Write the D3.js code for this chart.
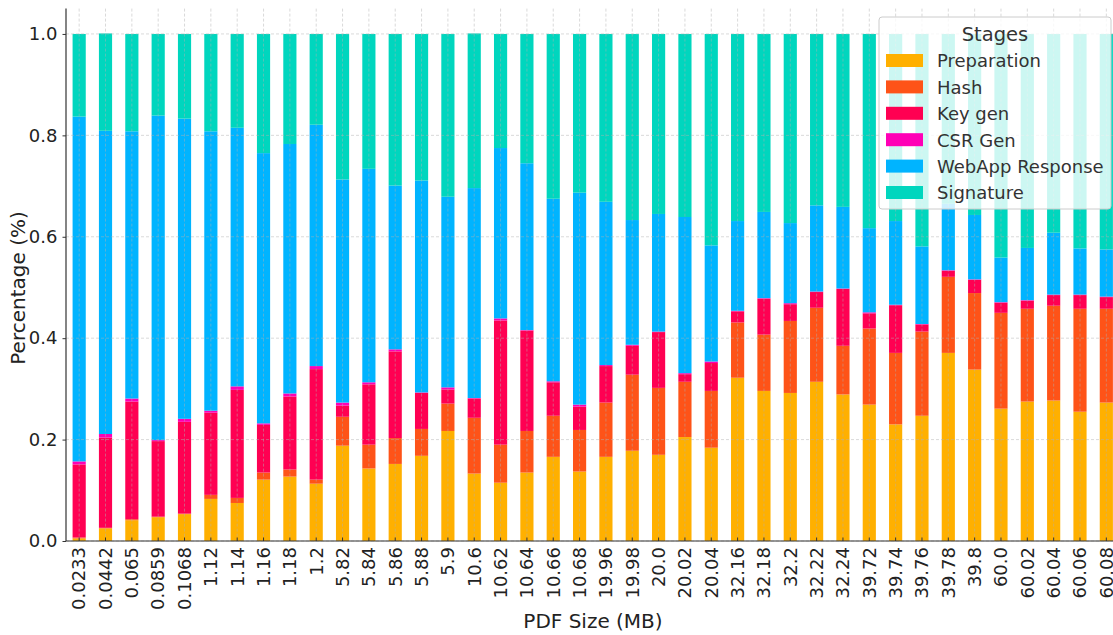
<!DOCTYPE html>
<html>
<head>
<meta charset="utf-8">
<title>Stages per PDF size</title>
<script src="https://cdn.jsdelivr.net/npm/d3@7"></script>
<style>
body { margin: 0; background: #fff; }
svg { font-family: "DejaVu Sans", sans-serif; }
</style>
</head>
<body>
<svg width="1113" height="635"></svg>
<script>
// PDF sizes (MB), one bar each
var sizes = ["0.0233","0.0442","0.065","0.0859","0.1068","1.12","1.14","1.16","1.18","1.2",
  "5.82","5.84","5.86","5.88","5.9","10.6","10.62","10.64","10.66","10.68",
  "19.96","19.98","20.0","20.02","20.04","32.16","32.18","32.2","32.22","32.24",
  "39.72","39.74","39.76","39.78","39.8","60.0","60.02","60.04","60.06","60.08"];

var stages = ["Preparation", "Hash", "Key gen", "CSR Gen", "WebApp Response", "Signature"];
var colors = ["#ffb000", "#fe5318", "#ff0052", "#ff00b6", "#00b4ff", "#00d6be"];

// share of each stage (fractions of 1)
var preparation = [.005,.025,.041,.047,.053,.083,.075,.121,.127,.113,
  .188,.143,.152,.168,.217,.133,.115,.135,.166,.137,
  .166,.178,.170,.205,.184,.322,.296,.292,.314,.289,
  .269,.230,.247,.371,.338,.261,.275,.277,.255,.273];
var hash = [.002,.001,.002,.001,.001,.008,.010,.014,.014,.008,
  .057,.047,.051,.053,.054,.110,.075,.082,.081,.082,
  .107,.150,.132,.109,.112,.109,.111,.142,.146,.096,
  .150,.141,.166,.150,.151,.189,.183,.187,.203,.185];
var keygen = [.144,.178,.232,.149,.181,.162,.213,.094,.144,.218,
  .022,.119,.171,.071,.028,.038,.245,.198,.066,.046,
  .072,.057,.110,.015,.055,.022,.071,.033,.031,.112,
  .030,.094,.014,.012,.026,.020,.016,.021,.027,.023];
var csrgen = [.006,.007,.006,.002,.006,.004,.007,.003,.006,.006,
  .006,.004,.004,.001,.004,.001,.004,.001,.002,.004,
  .002,.002,.001,.002,.003,.001,.001,.002,.001,.001,
  .002,.001,.001,.001,.001,.001,.001,.001,.001,.001];
var webapp = [.680,.598,.527,.640,.592,.551,.510,.533,.492,.476,
  .440,.421,.323,.418,.376,.414,.336,.329,.360,.418,
  .322,.246,.232,.308,.229,.177,.170,.158,.170,.161,
  .166,.165,.153,.131,.127,.088,.103,.122,.091,.093];
var signature = [.163,.192,.192,.161,.167,.192,.185,.235,.217,.179,
  .287,.266,.299,.289,.321,.305,.225,.255,.325,.313,
  .331,.367,.355,.361,.417,.369,.351,.373,.338,.341,
  .383,.369,.419,.335,.357,.441,.422,.392,.423,.425];

var yTicks = [0, 0.2, 0.4, 0.6, 0.8, 1.0];

var series = [preparation, hash, keygen, csrgen, webapp, signature];
var rows = sizes.map(function(s, i) {
  var r = {size: s};
  stages.forEach(function(st, j) { r[st] = series[j][i]; });
  return r;
});

var svg = d3.select("svg");
var mLeft = 66, mRight = 1119.5, mTop = 8.6, mBottom = 541;

var x = d3.scaleBand().domain(sizes).range([mLeft, mRight]).paddingInner(0.5).paddingOuter(0.25);
var y = d3.scaleLinear().domain([0, 1.05]).range([mBottom, mTop]);

var stacked = d3.stack().keys(stages)(rows);

// bars
svg.append("g").selectAll("g")
  .data(stacked)
  .enter().append("g")
    .attr("fill", function(d, i) { return colors[i]; })
  .selectAll("rect")
  .data(function(d) { return d; })
  .enter().append("rect")
    .attr("x", function(d) { return x(d.data.size); })
    .attr("width", x.bandwidth())
    .attr("y", function(d) { return y(d[1]); })
    .attr("height", function(d) { return y(d[0]) - y(d[1]); });

// grid (drawn over the bars, as in the original)
var grid = svg.append("g").attr("stroke", "#b0b0b0").attr("stroke-opacity", 0.6)
  .attr("stroke-dasharray", "3,2").attr("stroke-width", 0.8);
grid.selectAll(".h").data(yTicks).enter().append("line")
  .attr("x1", mLeft).attr("x2", 1113)
  .attr("y1", function(d) { return y(d); }).attr("y2", function(d) { return y(d); });
grid.selectAll(".v").data(sizes).enter().append("line")
  .attr("x1", function(d) { return x(d) + x.bandwidth() / 2; })
  .attr("x2", function(d) { return x(d) + x.bandwidth() / 2; })
  .attr("y1", mTop).attr("y2", mBottom);

// axes
var yAxis = svg.append("g").attr("transform", "translate(" + mLeft + ",0)")
  .call(d3.axisLeft(y).tickValues(yTicks).tickFormat(d3.format(".1f")).tickSize(3.5).tickPadding(5));
var xAxis = svg.append("g").attr("transform", "translate(0," + mBottom + ")")
  .call(d3.axisBottom(x).tickSize(3.5).tickPadding(5));

[yAxis, xAxis].forEach(function(a) {
  a.selectAll(".domain").attr("stroke", "#333").attr("stroke-width", 1.2);
  a.selectAll(".tick line").attr("stroke", "#333");
  a.selectAll("text").attr("fill", "#222").style("font-size", "18px").style("font-family", "DejaVu Sans");
});
yAxis.select(".domain").attr("d", "M0," + mTop + "V" + mBottom);
xAxis.select(".domain").attr("d", "M" + mLeft + ",0H1113");
xAxis.selectAll(".tick line").attr("y2", -3.5);
xAxis.selectAll(".tick text")
  .attr("transform", "rotate(-90)")
  .attr("text-anchor", "end")
  .attr("x", -6).attr("y", 0).attr("dy", "0.35em");

// axis titles
svg.append("text").attr("x", 593).attr("y", 628)
  .attr("text-anchor", "middle").attr("fill", "#222").style("font-size", "20px")
  .text("PDF Size (MB)");
svg.append("text").attr("transform", "translate(25,288) rotate(-90)")
  .attr("text-anchor", "middle").attr("fill", "#222").style("font-size", "20px")
  .text("Percentage (%)");

// legend
var lg = svg.append("g").attr("transform", "translate(879,17)");
lg.append("rect").attr("width", 232).attr("height", 192).attr("rx", 3)
  .attr("fill", "#fff").attr("fill-opacity", 0.8).attr("stroke", "#cccccc");
lg.append("text").attr("x", 116).attr("y", 24).attr("text-anchor", "middle")
  .attr("fill", "#333").style("font-size", "19.5px").text("Stages");
var items = lg.selectAll(".item").data(stages).enter().append("g")
  .attr("transform", function(d, i) { return "translate(0," + (44 + i * 26.4) + ")"; });
items.append("rect").attr("x", 7).attr("y", -7).attr("width", 37).attr("height", 13)
  .attr("fill", function(d, i) { return colors[i]; });
items.append("text").attr("x", 58).attr("y", 0).attr("dy", "0.35em")
  .attr("fill", "#333").style("font-size", "18px").text(function(d) { return d; });
</script>
</body>
</html>
